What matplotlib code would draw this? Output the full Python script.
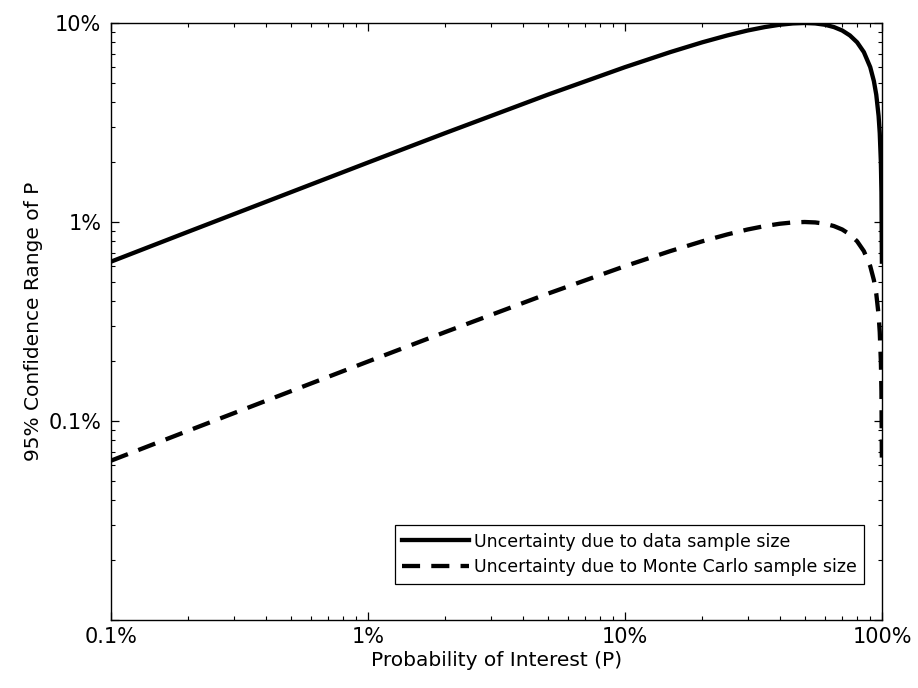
"""
Confidence range of P vs probability of interest (log-log).
"""

import numpy as np
import matplotlib.pyplot as plt
from matplotlib.ticker import FixedLocator, FixedFormatter, LogLocator, NullFormatter

plt.rcParams['font.family'] = ['DejaVu Sans']
plt.rcParams['font.size'] = 14

# probability of interest (fraction)
p_vals = [0.001, 0.002, 0.005, 0.01, 0.02, 0.05, 0.1, 0.15, 0.2, 0.25, 0.3,
          0.35, 0.4, 0.45, 0.5, 0.55, 0.6, 0.65, 0.7, 0.75, 0.8, 0.85, 0.9,
          0.93, 0.95, 0.97, 0.98, 0.99, 0.995, 0.999]

# 95% range, data sample size (solid)
data_range = [0.00632, 0.00894, 0.0141, 0.0199, 0.0280, 0.0436, 0.0600, 0.0714,
              0.0800, 0.0866, 0.0917, 0.0954, 0.0980, 0.0995, 0.1000, 0.0995,
              0.0980, 0.0954, 0.0917, 0.0866, 0.0800, 0.0714, 0.0600, 0.0510,
              0.0436, 0.0341, 0.0280, 0.0199, 0.0141, 0.00632]

# 95% range, Monte Carlo sample size (dashed)
mc_range = [0.000632, 0.000894, 0.00141, 0.00199, 0.00280, 0.00436, 0.00600,
            0.00714, 0.00800, 0.00866, 0.00917, 0.00954, 0.00980, 0.00995,
            0.01000, 0.00995, 0.00980, 0.00954, 0.00917, 0.00866, 0.00800,
            0.00714, 0.00600, 0.00510, 0.00436, 0.00341, 0.00280, 0.00199,
            0.00141, 0.000632]

x_ticks = [0.001, 0.01, 0.1, 1.0]
x_labels = ['0.1%', '1%', '10%', '100%']
y_ticks = [0.0001, 0.001, 0.01, 0.1]
y_labels = ['', '0.1%', '1%', '10%']

fig = plt.figure(figsize=(9.18, 6.88), dpi=100)
ax = fig.add_axes([111 / 918, 68 / 688, 771 / 918, 597 / 688])

ax.plot(p_vals, data_range, '-', color='black', lw=3.1,
        label='Uncertainty due to data sample size')
ax.plot(p_vals, mc_range, '--', color='black', lw=3.1, dashes=(4.2, 2.6),
        label='Uncertainty due to Monte Carlo sample size')

ax.set_xscale('log')
ax.set_yscale('log')
ax.set_xlim(0.001, 1.0)
ax.set_ylim(0.0001, 0.1)

ax.xaxis.set_major_locator(FixedLocator(x_ticks))
ax.xaxis.set_major_formatter(FixedFormatter(x_labels))
ax.yaxis.set_major_locator(FixedLocator(y_ticks))
ax.yaxis.set_major_formatter(FixedFormatter(y_labels))
for axis in (ax.xaxis, ax.yaxis):
    axis.set_minor_locator(LogLocator(base=10, subs=np.arange(2, 10)))
    axis.set_minor_formatter(NullFormatter())

ax.tick_params(which='both', direction='in', top=True, right=True,
               labelsize=15)
ax.tick_params(axis='x', which='major', pad=5)
ax.tick_params(axis='y', which='major', pad=7)
ax.tick_params(which='major', length=6, width=0.9)
ax.tick_params(which='minor', length=3, width=0.8)
for s in ax.spines.values():
    s.set_linewidth(1.0)

ax.set_xlabel('Probability of Interest (P)', fontsize=14.5, labelpad=3)
ax.set_ylabel('95% Confidence Range of P', fontsize=14.5, labelpad=4)

leg = ax.legend(loc='lower right', bbox_to_anchor=(0.977, 0.06),
                fancybox=False, framealpha=1, edgecolor='black',
                handlelength=3.85, borderpad=0.45, labelspacing=0.45,
                handletextpad=0.25, borderaxespad=0, fontsize=12.5)
leg.get_frame().set_linewidth(0.9)

fig.savefig('out.png', dpi=100)
print("Saved: out.png")
